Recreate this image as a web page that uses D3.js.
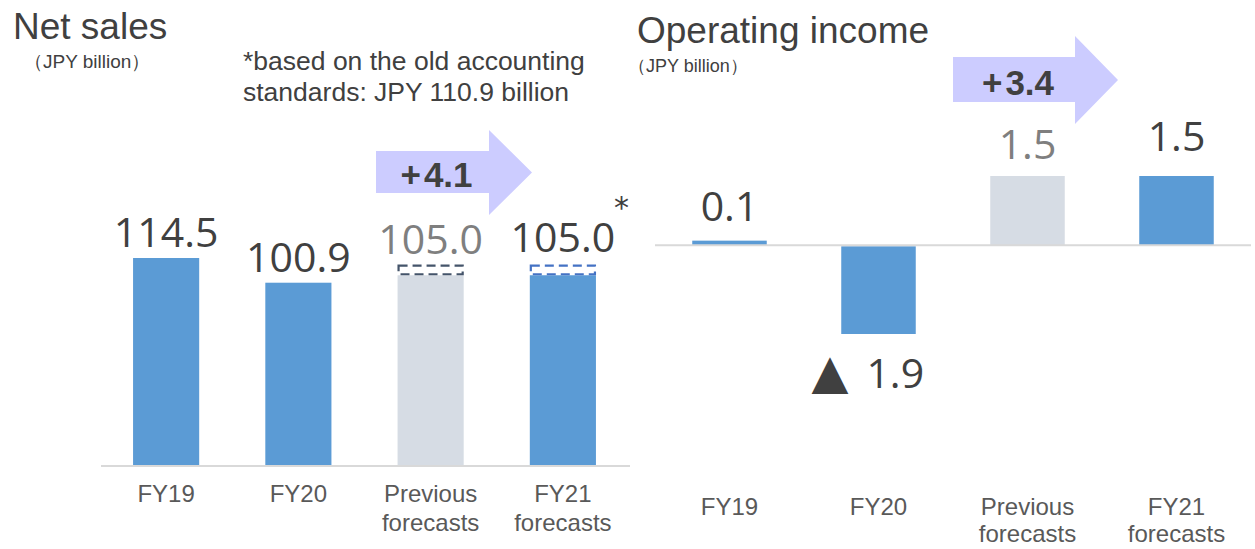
<!DOCTYPE html>
<html><head><meta charset="utf-8">
<script src="https://cdn.jsdelivr.net/npm/d3@7"></script>
<style>
html,body{margin:0;padding:0;background:#fff;}
svg{display:block;}
</style></head>
<body>
<svg id="chart" width="1255" height="549"></svg>
<script>
// ---- data ----
const categories = ["FY19", "FY20", "Previous\nforecasts", "FY21\nforecasts"];
const netSales = [114.5, 100.9, 105.0, 105.0];
const netSalesOldStd = [null, null, 110.9, 110.9];
const opIncome = [0.1, -1.9, 1.5, 1.5];
const salesLabels = ["114.5", "100.9", "105.0", "105.0"];
const incomeLabels = ["0.1", "▲ 1.9", "1.5", "1.5"];
const salesChange = "+4.1";
const incomeChange = "+3.4";
const isPrevious = [false, false, true, false];

const svg = d3.select("#chart");
const BLUE = "#5B9BD5", GREY = "#D6DCE4", DARK = "#404040", MID = "#7F7F7F", LAB = "#595959";
const FONT = "'Liberation Sans', Arial, sans-serif";
const NUMFONT = "'Open Sans', 'Liberation Sans', sans-serif";

// ---------- LEFT: Net sales ----------
const xL = d3.scaleBand().domain(categories).range([100, 629]).paddingInner(0.5).paddingOuter(0.25);
const yL = d3.scaleLinear().domain([0, 114.5]).range([466, 258]);

svg.append("text").attr("x", 13).attr("y", 39).attr("font-family", FONT).attr("font-size", 37).attr("fill", DARK).text("Net sales");
svg.append("text").attr("x", 24).attr("y", 68).attr("font-family", FONT).attr("font-size", 19).attr("fill", DARK).text("（JPY billion）");
svg.append("text").attr("x", 243).attr("y", 70).attr("font-family", FONT).attr("font-size", 26.5).attr("fill", DARK).text("*based on the old accounting");
svg.append("text").attr("x", 243).attr("y", 101).attr("font-family", FONT).attr("font-size", 26.5).attr("fill", DARK).text("standards: JPY 110.9 billion");

const gL = svg.append("g");
gL.selectAll("rect.bar").data(categories).join("rect").attr("class", "bar")
  .attr("x", d => xL(d)).attr("width", xL.bandwidth())
  .attr("y", (d, i) => yL(netSales[i])).attr("height", (d, i) => yL(0) - yL(netSales[i]))
  .attr("fill", (d, i) => isPrevious[i] ? GREY : BLUE);

// dashed boxes for old-standard value
gL.selectAll("rect.old").data(categories.filter((d, i) => netSalesOldStd[i] != null)).join("rect").attr("class", "old")
  .attr("x", d => xL(d) + 1).attr("width", xL.bandwidth() - 2)
  .attr("y", d => yL(netSalesOldStd[categories.indexOf(d)]) + 1)
  .attr("height", d => yL(netSales[categories.indexOf(d)]) - yL(netSalesOldStd[categories.indexOf(d)]) - 2)
  .attr("fill", "none")
  .attr("stroke", d => isPrevious[categories.indexOf(d)] ? "#44546A" : "#4472C4")
  .attr("stroke-width", 2.2).attr("stroke-dasharray", "9,5");

// axis line
const axL = d3.axisBottom(xL).tickSize(0).tickFormat("");
gL.append("g").attr("transform", "translate(0,466)").call(axL)
  .call(g => g.select(".domain").attr("stroke", "#D9D9D9").attr("stroke-width", 2).attr("d", "M101,0H630"));

// value labels
gL.selectAll("text.val").data(categories).join("text").attr("class", "val")
  .attr("x", d => xL(d) + xL.bandwidth() / 2)
  .attr("y", (d, i) => yL(netSalesOldStd[i] != null ? netSalesOldStd[i] : netSales[i]) - (i === 3 ? 13 : 11))
  .attr("text-anchor", "middle").attr("font-family", NUMFONT).attr("font-size", 41)
  .attr("fill", (d, i) => isPrevious[i] ? MID : DARK).text((d, i) => salesLabels[i]);
svg.append("text").attr("x", xL(categories[3]) + xL.bandwidth() / 2 + 51).attr("y", 218)
  .attr("font-family", "'DejaVu Sans', sans-serif").attr("font-size", 30).attr("fill", DARK).text("*");

// category labels
gL.selectAll("text.cat").data(categories).join("text").attr("class", "cat")
  .attr("x", d => xL(d) + xL.bandwidth() / 2).attr("y", 502)
  .attr("text-anchor", "middle").attr("font-family", FONT).attr("font-size", 24).attr("fill", LAB)
  .each(function (d) {
    d.split("\n").forEach((t, k) => d3.select(this).append("tspan").attr("x", xL(d) + xL.bandwidth() / 2).attr("dy", k ? 29 : 0).text(t));
  });

// arrow
function arrow(x0, xb, xt, ry0, ry1, hy0, hy1, label, fs) {
  const ym = (hy0 + hy1) / 2;
  svg.append("path").attr("d", `M${x0},${ry0}H${xb}V${hy0}L${xt},${ym}L${xb},${hy1}V${ry1}H${x0}Z`).attr("fill", "#CCCCFF");
  const t = svg.append("text").attr("x", (x0 + xb) / 2 + 4).attr("y", ym + fs * 0.42).attr("text-anchor", "middle")
    .attr("font-family", FONT).attr("font-weight", "bold").attr("font-size", fs).attr("fill", DARK);
  t.append("tspan").text(label[0]);
  t.append("tspan").attr("dx", 3).text(label.slice(1));
}
arrow(376, 489, 532, 151, 193, 130, 215, salesChange, 35);

// ---------- RIGHT: Operating income ----------
const xR = d3.scaleBand().domain(categories).range([655, 1251]).paddingInner(0.5).paddingOuter(0.25);
const yR = d3.scaleLinear().domain([-1.9, 1.5]).range([333, 176]);

svg.append("text").attr("x", 637).attr("y", 43).attr("font-family", FONT).attr("font-size", 37).attr("fill", DARK).text("Operating income");
svg.append("text").attr("x", 628).attr("y", 72).attr("font-family", FONT).attr("font-size", 18).attr("fill", DARK).text("（JPY billion）");

arrow(953, 1075, 1118, 57, 102, 36, 124, incomeChange, 35);

const gR = svg.append("g");
gR.selectAll("rect.bar").data(categories).join("rect").attr("class", "bar")
  .attr("x", d => xR(d)).attr("width", xR.bandwidth())
  .attr("y", (d, i) => Math.min(yR(0), yR(opIncome[i])) + (opIncome[i] < 0 ? 1 : 0))
  .attr("height", (d, i) => Math.abs(yR(opIncome[i]) - yR(0)))
  .attr("fill", (d, i) => isPrevious[i] ? GREY : BLUE);

const axR = d3.axisBottom(xR).tickSize(0).tickFormat("");
gR.append("g").attr("transform", `translate(0,${yR(0)})`).call(axR)
  .call(g => g.select(".domain").attr("stroke", "#D9D9D9").attr("stroke-width", 2).attr("d", "M655,0H1251"));

const rOff = [-20, 55, -17, -25];
gR.selectAll("text.val").data(categories).join("text").attr("class", "val")
  .attr("x", (d, i) => xR(d) + xR.bandwidth() / 2 + (opIncome[i] < 0 ? -67 : 0))
  .attr("y", (d, i) => yR(opIncome[i]) + rOff[i])
  .attr("text-anchor", (d, i) => opIncome[i] < 0 ? "start" : "middle")
  .attr("font-family", NUMFONT).attr("font-size", 41)
  .attr("fill", (d, i) => isPrevious[i] ? MID : DARK)
  .each(function (d, i) {
    const parts = incomeLabels[i].split(" ");
    const t = d3.select(this);
    if (parts.length > 1) {
      t.append("tspan").attr("font-family", "'DejaVu Sans', sans-serif").attr("font-size", 48).text(parts[0]);
      t.append("tspan").attr("dx", 18).text(parts[1]);
    } else {
      t.text(parts[0]);
    }
  });

gR.selectAll("text.cat").data(categories).join("text").attr("class", "cat")
  .attr("x", d => xR(d) + xR.bandwidth() / 2).attr("y", 515)
  .attr("text-anchor", "middle").attr("font-family", FONT).attr("font-size", 24).attr("fill", LAB)
  .each(function (d) {
    d.split("\n").forEach((t, k) => d3.select(this).append("tspan").attr("x", xR(d) + xR.bandwidth() / 2).attr("dy", k ? 27 : 0).text(t));
  });
</script>
</body></html>
